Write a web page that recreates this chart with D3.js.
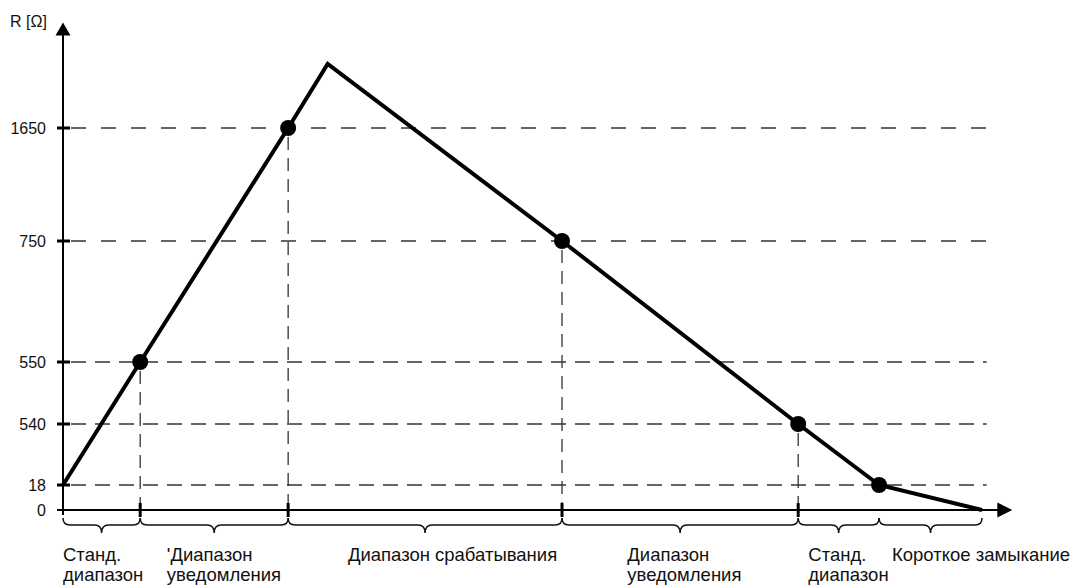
<!DOCTYPE html>
<html>
<head>
<meta charset="utf-8">
<script src="https://cdn.jsdelivr.net/npm/d3@7/dist/d3.min.js"></script>
<style>
  body { margin: 0; background: #fff; }
  text { font-family: "Liberation Sans", Arial, sans-serif; fill: #111; }
</style>
</head>
<body>
<div id="chart"></div>
<script>
var width = 1072, height = 585

// R levels shown on the axis
var yTicks = [0, 18, 540, 550, 750, 1650]
// curve: position along travel (0..100) and resistance
var curveX = [0, 8.4, 24.5, 28.8, 54.3, 80.0, 88.8, 100]
var curveR = [18, 550, 1650, 2160, 750, 540, 18, 0]
var dotIdx = [1, 2, 4, 5, 6]
// ranges under the x axis
var rangeBounds = [0, 8.4, 24.5, 54.3, 80.0, 88.8, 100]
var rangeLabels = [
  ["Станд.", "диапазон"],
  ["'Диапазон", "уведомления"],
  ["Диапазон срабатывания"],
  ["Диапазон", "уведомления"],
  ["Станд.", "диапазон"],
  ["Короткое замыкание"]
]
var rangeLabelX = [0, 11.3, 31.0, 61.4, 81.1, 90.2]
var xTickVals = [8.4, 24.5, 54.3, 80.0]

var svg = d3.select("#chart").append("svg")
    .attr("width", width)
    .attr("height", height)

// schematic scales (the y axis is not proportional)
var x = d3.scaleLinear().domain([0, 100]).range([63, 982])
var y = d3.scaleLinear()
    .domain(yTicks)
    .range([510, 485, 424, 362, 241, 128])

var xEnd = 103.3, yTop = 2490

// horizontal dashed guides
svg.append("g").selectAll("line")
    .data(yTicks.filter(function(d) { return d > 0 }))
    .enter().append("line")
    .attr("x1", x(0) + 8)
    .attr("x2", x(100.5))
    .attr("y1", function(d) { return y(d) })
    .attr("y2", function(d) { return y(d) })
    .attr("stroke", "#333")
    .attr("stroke-width", 1.3)
    .attr("stroke-dasharray", function(d) { return d >= 750 ? "15,15" : "15,9" })

// vertical dashed guides from the dots
svg.append("g").selectAll("line")
    .data(xTickVals)
    .enter().append("line")
    .attr("x1", function(d) { return x(d) })
    .attr("x2", function(d) { return x(d) })
    .attr("y1", function(d) { return y(curveR[curveX.indexOf(d)]) + 9 })
    .attr("y2", y(0))
    .attr("stroke", "#333")
    .attr("stroke-width", 1.3)
    .attr("stroke-dasharray", "13,8")

// axes
svg.append("line")
    .attr("x1", x(0) - 6).attr("x2", x(xEnd) - 14)
    .attr("y1", y(0)).attr("y2", y(0))
    .attr("stroke", "#000").attr("stroke-width", 2)
svg.append("path")
    .attr("d", "M" + x(xEnd) + "," + y(0) + "l-15,-7.5l0,15z")
    .attr("fill", "#000")
svg.append("line")
    .attr("x1", x(0)).attr("x2", x(0))
    .attr("y1", y(0) + 5).attr("y2", y(yTop) + 12)
    .attr("stroke", "#000").attr("stroke-width", 2)
svg.append("path")
    .attr("d", "M" + x(0) + "," + y(yTop) + "l-7.5,13l15,0z")
    .attr("fill", "#000")

// y labels via axis, tick marks drawn across the axis
var yAxis = d3.axisLeft(y).tickValues(yTicks).tickFormat(d3.format("d"))
    .tickSize(0).tickPadding(17)
var ga = svg.append("g").attr("transform", "translate(" + x(0) + ",0)").call(yAxis)
ga.select(".domain").remove()
ga.attr("font-size", null).attr("font-family", null)
ga.selectAll("text")
    .style("font-size", "16px")
    .attr("fill", "#111")
svg.append("g").selectAll("line")
    .data(yTicks.filter(function(d) { return d > 0 }))
    .enter().append("line")
    .attr("x1", x(0) - 6).attr("x2", x(0) + 7)
    .attr("y1", function(d) { return y(d) })
    .attr("y2", function(d) { return y(d) })
    .attr("stroke", "#000").attr("stroke-width", 3)

svg.append("text")
    .attr("x", 10).attr("y", 27)
    .style("font-size", "16px")
    .text("R [Ω]")

// x tick marks
svg.append("g").selectAll("line")
    .data(xTickVals)
    .enter().append("line")
    .attr("x1", function(d) { return x(d) })
    .attr("x2", function(d) { return x(d) })
    .attr("y1", y(0) - 7).attr("y2", y(0) + 7)
    .attr("stroke", "#000").attr("stroke-width", 3)

// braces
function brace(a, b) {
  var y0 = 518, y1 = 525, y2 = 533, r = 7, m = (a + b) / 2
  return "M" + a + "," + y0 + "Q" + a + "," + y1 + " " + (a + r) + "," + y1 +
    "L" + (m - r) + "," + y1 + "Q" + m + "," + y1 + " " + m + "," + y2 +
    "Q" + m + "," + y1 + " " + (m + r) + "," + y1 +
    "L" + (b - r) + "," + y1 + "Q" + b + "," + y1 + " " + b + "," + y0
}
svg.append("g").selectAll("path")
    .data(d3.pairs(rangeBounds))
    .enter().append("path")
    .attr("d", function(d) { return brace(x(d[0]), x(d[1])) })
    .attr("fill", "none")
    .attr("stroke", "#111")
    .attr("stroke-width", 1.5)

// range labels
var lab = svg.append("g").selectAll("text")
    .data(rangeLabels)
    .enter().append("text")
    .attr("x", function(d, i) { return x(rangeLabelX[i]) })
    .attr("y", 561)
    .style("font-size", "18.5px")
lab.selectAll("tspan")
    .data(function(d) { return d })
    .enter().append("tspan")
    .attr("x", function() { return d3.select(this.parentNode).attr("x") })
    .attr("dy", function(d, i) { return i ? 20 : 0 })
    .text(function(d) { return d })

// the curve
var pts = curveX.map(function(d, i) { return [x(d), y(curveR[i])] })
svg.append("path")
    .datum(pts)
    .attr("d", d3.line())
    .attr("fill", "none")
    .attr("stroke", "#000")
    .attr("stroke-width", 4)
    .attr("stroke-linejoin", "miter")

svg.append("g").selectAll("circle")
    .data(dotIdx)
    .enter().append("circle")
    .attr("cx", function(i) { return x(curveX[i]) })
    .attr("cy", function(i) { return y(curveR[i]) })
    .attr("r", 8)
    .attr("fill", "#000")
</script>
</body>
</html>
